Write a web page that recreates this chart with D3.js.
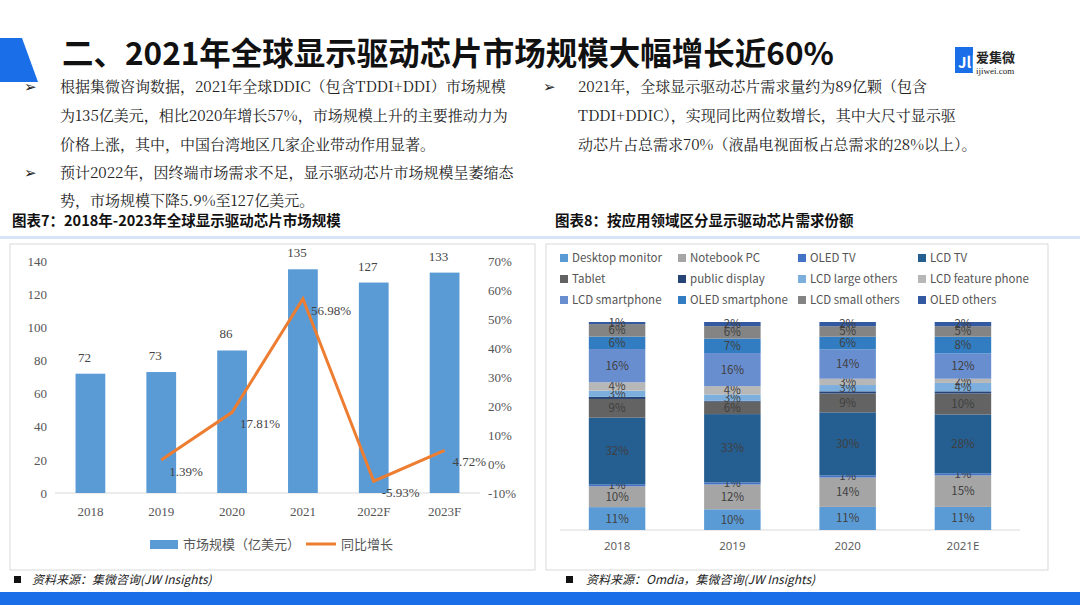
<!DOCTYPE html>
<html><head><meta charset="utf-8">
<script src="https://cdn.jsdelivr.net/npm/d3@7"></script>
<style>
body{margin:0;background:#fff;font-family:"Noto Sans CJK SC","Noto Sans",sans-serif}
svg{display:block}
</style></head><body>
<svg id="c" width="1080" height="605"></svg>
<script>
const years = ['2018','2019','2020','2021','2022F','2023F'];
const marketSize = [72,73,86,135,127,133];
const growthYears = ['2019','2020','2021','2022F','2023F'];
const growth = [1.39,17.81,56.98,-5.93,4.72];

const shareYears = ['2018','2019','2020','2021E'];
const segments = ['Desktop monitor','Notebook PC','OLED TV','LCD TV','Tablet','public display','LCD large others','LCD feature phone','LCD smartphone','OLED smartphone','LCD small others','OLED others'];
const segColors = ['#5b9bd5','#a5a5a5','#4472c4','#255e91','#636363','#264478','#7cafdd','#b7b7b7','#698ed0','#327dc2','#848484','#335aa1'];
const shares = [
  [11,10,1,32,9,1,3,4,16,6,6,1],
  [10,12,1,33,6,0.5,3,4,16,7,6,2],
  [11,14,1,30,9,1,3,3,14,6,5,2],
  [11,15,1,28,10,1,4,2,12,8,5,2]
];

const svg = d3.select('#c');
const serif = '"Liberation Serif","DejaVu Serif",serif';

// header
svg.append('path').attr('d','M0,38 L22,38 L38,82 L0,82 Z').attr('fill','#1a6ee8');
svg.append('text').attr('x',62).attr('y',65).attr('font-size',31.5).attr('font-weight',700)
  .attr('fill','#111').text('二、2021年全球显示驱动芯片市场规模大幅增长近60%');
svg.append('rect').attr('x',955).attr('y',47).attr('width',18).attr('height',26).attr('fill','#1a6ee8');
svg.append('text').attr('x',958).attr('y',68).attr('font-size',15).attr('fill','#fff').attr('font-weight',700).text('Jl|');
svg.append('text').attr('x',976).attr('y',62).attr('font-size',13).attr('font-weight',700).attr('fill','#222').text('爱集微');
svg.append('text').attr('x',976).attr('y',74).attr('font-size',9).attr('font-family',serif).attr('fill','#222').text('ijiwei.com');

const para = [
  [24,92,'➢'],[60,92,'根据集微咨询数据，2021年全球DDIC（包含TDDI+DDI）市场规模'],
  [60,121,'为135亿美元，相比2020年增长57%，市场规模上升的主要推动力为'],
  [60,150,'价格上涨，其中，中国台湾地区几家企业带动作用显著。'],
  [24,178,'➢'],[60,178,'预计2022年，因终端市场需求不足，显示驱动芯片市场规模呈萎缩态'],
  [60,206,'势，市场规模下降5.9%至127亿美元。'],
  [543,92,'➢'],[578,92,'2021年，全球显示驱动芯片需求量约为89亿颗（包含'],
  [578,121,'TDDI+DDIC），实现同比两位数增长，其中大尺寸显示驱'],
  [578,150,'动芯片占总需求70%（液晶电视面板占总需求的28%以上）。']
];
svg.selectAll('text.p').data(para).enter().append('text')
  .attr('x',d=>d[0]).attr('y',d=>d[1]).attr('font-size',15).attr('fill','#222')
  .attr('font-family','"Noto Serif CJK SC","Noto Sans CJK SC",serif').text(d=>d[2]);

svg.append('text').attr('x',12).attr('y',226).attr('font-size',14.5).attr('font-weight',700).attr('fill','#111').text('图表7：2018年-2023年全球显示驱动芯片市场规模');
svg.append('text').attr('x',555).attr('y',226).attr('font-size',14.5).attr('font-weight',700).attr('fill','#111').text('图表8：按应用领域区分显示驱动芯片需求份额');
svg.append('rect').attr('x',0).attr('y',236).attr('width',1080).attr('height',3).attr('fill','#d6e4f5');

// left chart
svg.append('rect').attr('x',10).attr('y',244).attr('width',525).attr('height',326).attr('fill','none').attr('stroke','#d9d9d9');
const x1 = d3.scaleBand().domain(years).range([55,480]).paddingInner(0.58).paddingOuter(0.29);
const yL = d3.scaleLinear().domain([0,140]).range([493,261]);
const yR = d3.scaleLinear().domain([-10,70]).range([493,261]);
const gL = svg.append('g').attr('font-family',serif);
const styleAxis = g=>{g.select('.domain').remove();g.selectAll('text').attr('font-size',13).attr('fill','#555').attr('font-family',serif);};
gL.append('g').attr('transform','translate(55,0)')
  .call(d3.axisLeft(yL).ticks(7).tickSize(0).tickPadding(8)).call(styleAxis);
gL.append('g').attr('transform','translate(480,0)')
  .call(d3.axisRight(yR).ticks(8).tickSize(0).tickPadding(8).tickFormat(d=>d+'%')).call(styleAxis);
gL.append('line').attr('x1',55).attr('x2',480).attr('y1',493).attr('y2',493).attr('stroke','#d9d9d9');
gL.append('g').attr('transform','translate(0,493)')
  .call(d3.axisBottom(x1).tickSize(0).tickPadding(14)).call(styleAxis);
const cx = y=>x1(y)+x1.bandwidth()/2;
gL.selectAll('rect.b').data(marketSize).enter().append('rect')
  .attr('x',(d,i)=>x1(years[i])).attr('width',x1.bandwidth())
  .attr('y',d=>yL(d)).attr('height',d=>yL(0)-yL(d)).attr('fill','#5b9bd5');
gL.selectAll('text.bv').data(marketSize).enter().append('text')
  .attr('x',(d,i)=>cx(years[i])-6).attr('y',d=>yL(d)-12)
  .attr('text-anchor','middle').attr('font-size',13).attr('fill','#444').text(d=>d);
gL.append('path').datum(growth).attr('fill','none').attr('stroke','#ed7d31').attr('stroke-width',3)
  .attr('d',d3.line().x((d,i)=>cx(growthYears[i])).y(d=>yR(d)));
gL.selectAll('text.gv').data(growth).enter().append('text')
  .attr('x',(d,i)=>cx(growthYears[i])+8).attr('y',d=>yR(d)+16)
  .attr('font-size',13).attr('fill','#444').text(d=>d.toFixed(2)+'%');
svg.append('rect').attr('x',150).attr('y',540).attr('width',28).attr('height',9).attr('fill','#5b9bd5');
svg.append('text').attr('x',183).attr('y',549).attr('font-size',13).attr('fill','#555').text('市场规模（亿美元）');
svg.append('line').attr('x1',306).attr('x2',336).attr('y1',544).attr('y2',544).attr('stroke','#ed7d31').attr('stroke-width',3);
svg.append('text').attr('x',341).attr('y',549).attr('font-size',13).attr('fill','#555').text('同比增长');

// right chart
svg.append('rect').attr('x',546).attr('y',244).attr('width',502).attr('height',326).attr('fill','none').attr('stroke','#d9d9d9');
segments.forEach((s,i)=>{
  const lx=[560,678,798,918][i%4], ly=258+Math.floor(i/4)*21;
  svg.append('rect').attr('x',lx).attr('y',ly-4).attr('width',8).attr('height',8).attr('fill',segColors[i]);
  svg.append('text').attr('x',lx+12).attr('y',ly+4).attr('font-size',11.5).attr('fill','#555').text(s);
});
const x2 = d3.scaleBand().domain(shareYears).range([560,1020]).paddingInner(0.51).paddingOuter(0.25);
const y2 = d3.scaleLinear().domain([0,1]).range([530,322]);
svg.append('line').attr('x1',560).attr('x2',1020).attr('y1',530).attr('y2',530).attr('stroke','#d9d9d9');
svg.append('g').attr('transform','translate(0,530)').call(d3.axisBottom(x2).tickSize(0).tickPadding(12))
  .call(g=>{g.select('.domain').remove();g.selectAll('text').attr('font-size',11.5).attr('fill','#555').attr('font-family','"Open Sans",sans-serif');});
shares.forEach((row,j)=>{
  const tot=d3.sum(row); let acc=0;
  row.forEach((v,i)=>{
    const y0=acc/tot, y1=(acc+v)/tot; acc+=v;
    svg.append('rect').attr('x',x2(shareYears[j])).attr('width',x2.bandwidth())
      .attr('y',y2(y1)).attr('height',y2(y0)-y2(y1)).attr('fill',segColors[i]);
    if(v>=1 && segments[i]!=='public display'){
      svg.append('text').attr('x',x2(shareYears[j])+x2.bandwidth()/2).attr('y',(y2(y0)+y2(y1))/2+4)
        .attr('text-anchor','middle').attr('font-size',11.5).attr('fill','#404040').text(v+'%');
    }
  });
});

// footer
svg.append('rect').attr('x',14).attr('y',576).attr('width',7).attr('height',7).attr('fill','#111');
svg.append('text').attr('x',32).attr('y',584).attr('font-size',12).attr('font-style','italic').attr('fill','#222').text('资料来源：集微咨询(JW Insights)');
svg.append('rect').attr('x',566).attr('y',576).attr('width',7).attr('height',7).attr('fill','#111');
svg.append('text').attr('x',586).attr('y',584).attr('font-size',12).attr('font-style','italic').attr('fill','#222').text('资料来源：Omdia，集微咨询(JW Insights)');
svg.append('rect').attr('x',0).attr('y',592).attr('width',1080).attr('height',13).attr('fill','#1a6ee8');
</script></body></html>
